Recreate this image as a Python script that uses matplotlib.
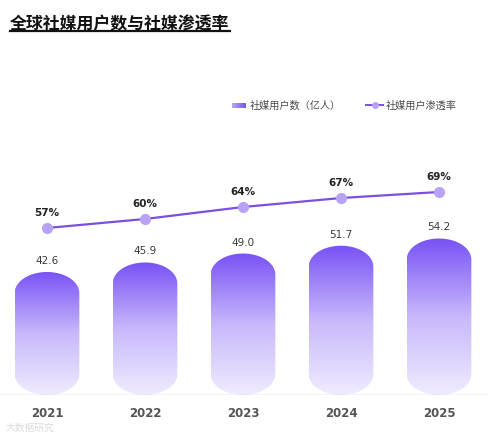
import numpy as np
import matplotlib
matplotlib.use("Agg")
import matplotlib.pyplot as plt
from matplotlib.path import Path
from matplotlib.patches import PathPatch
from matplotlib.colors import LinearSegmentedColormap
from matplotlib.lines import Line2D

plt.rcParams['font.family'] = ['Noto Sans CJK SC', 'DejaVu Sans']

years = ["2021", "2022", "2023", "2024", "2025"]
users = [42.6, 45.9, 49.0, 51.7, 54.2]
penetration = [57, 60, 64, 67, 69]
title = "全球社媒用户数与社媒渗透率"
legend_bar = "社媒用户数（亿人）"
legend_line = "社媒用户渗透率"

W, H = 490, 439
fig = plt.figure(figsize=(W / 100, H / 100), dpi=100)

ax_l, ax_b, ax_w, ax_h = -2 / W, 43 / H, 490 / W, 231 / H
ax = fig.add_axes([ax_l, ax_b, ax_w, ax_h])
ax.set_xlim(-0.5, 4.5)
ax.set_ylim(0, 80)
ax.axis('off')

cmap = LinearSegmentedColormap.from_list("g", ["#f0ecff", "#c8b8fb", "#7852f5"])
grad = np.linspace(0, 1, 256).reshape(-1, 1)

x = np.arange(len(years))
bw = 0.66
bars = ax.bar(x, users, width=bw, color='none', edgecolor='none')
px_per_unit = ax_h * H / 80.0
ry = 21 / px_per_unit  # cap vertical radius in data units
for rect in bars:
    x0, w, h = rect.get_x(), rect.get_width(), rect.get_height()
    cx, rx = x0 + w / 2, w / 2
    t = np.linspace(0, np.pi, 40)
    top = np.column_stack([cx + rx * np.cos(t), h - ry + ry * np.sin(t)])
    bot = np.column_stack([cx - rx * np.cos(t), ry - ry * np.sin(t)])
    verts = np.vstack([top, bot, top[:1]])
    codes = [Path.MOVETO] + [Path.LINETO] * (len(verts) - 2) + [Path.CLOSEPOLY]
    patch = PathPatch(Path(verts, codes), facecolor='none', edgecolor='none')
    ax.add_patch(patch)
    im = ax.imshow(grad, cmap=cmap, aspect='auto', origin='lower',
                   extent=[x0, x0 + w, 0, h], zorder=2)
    im.set_clip_path(patch)
    ax.text(cx, h + 12 / px_per_unit, f"{h:.1f}", ha='center', va='center',
            fontsize=7.5, color='#3a3a3a', family=['DejaVu Sans'])
ax.set_xlim(-0.5, 4.5)
ax.set_ylim(0, 80)

# baseline
ax.axhline(0, color='#c8c8c8', lw=1, zorder=5)

# year labels
for xi, yl in zip(x, years):
    ax.text(xi, -18 / px_per_unit, yl, ha='center', va='center', fontsize=8.5,
            color='#555555', fontweight='bold', family=['DejaVu Sans'])

# line axes
ax2 = fig.add_axes([ax_l, ax_b, ax_w, ax_h])
ax2.set_xlim(-0.5, 4.5)
ax2.set_ylim(4 / 3.0, 4 / 3.0 + 231 / 3.0)
ax2.axis('off')
ax2.plot(x, penetration, color='#7a50dd', lw=1.6, zorder=3)
ax2.plot(x, penetration, 'o', color='#b8a2f5', ms=7, zorder=4)
for xi, p in zip(x, penetration):
    ax2.text(xi, p + 16 / 3.0, f"{p}%", ha='center', va='center', fontsize=7.5,
             color='#222222', fontweight='bold', family=['DejaVu Sans'])

# title
fig.text(10 / W, 1 - 24 / H, title, fontsize=12.2, fontweight='bold', color='#111111',
         ha='left', va='center')
fig.add_artist(Line2D([10 / W, 230 / W], [1 - 32 / H, 1 - 32 / H], color='#111111', lw=1.6))

# legend
ly = 1 - 106 / H
lax = fig.add_axes([232 / W, 1 - 109 / H, 14 / W, 5 / H])
lax.imshow(np.linspace(0, 1, 50).reshape(1, -1),
           cmap=LinearSegmentedColormap.from_list("h", ["#b9a6fb", "#7852f5"]), aspect='auto')
lax.axis('off')
fig.text(250 / W, ly, legend_bar, fontsize=7.3, color='#4a4a4a', ha='left', va='center')
fig.add_artist(Line2D([366 / W, 383 / W], [ly, ly], color='#7a50dd', lw=1.4))
fig.add_artist(Line2D([374.5 / W], [ly], marker='o', color='#b8a2f5', ms=4))
fig.text(386 / W, ly, legend_line, fontsize=7.3, color='#4a4a4a', ha='left', va='center')

# watermark
fig.text(6 / W, 1 - 428 / H, "大数据研究", fontsize=7, color='#dddddd', ha='left', va='center')

fig.savefig("out.png", dpi=100)
